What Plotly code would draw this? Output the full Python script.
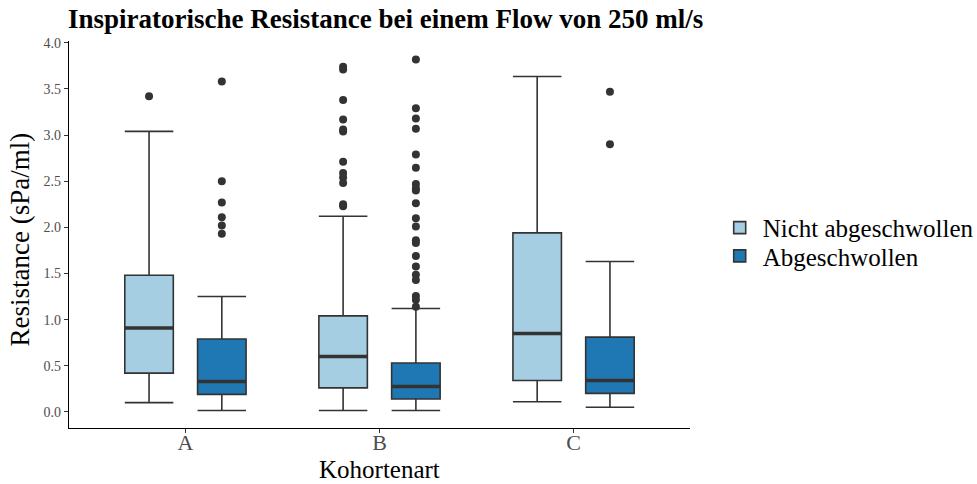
import plotly.graph_objects as go

# Kohortenart categories and the two groups per category
categories = ["A", "B", "C"]
groups = ["Nicht abgeschwollen", "Abgeschwollen"]
colors = ["#A6CEE3", "#1F78B4"]

# Box statistics (sPa/ml) per group, ordered A, B, C
lower_nicht = [0.10, 0.014, 0.11]
q1_nicht = [0.42, 0.26, 0.34]
median_nicht = [0.91, 0.60, 0.85]
q3_nicht = [1.48, 1.04, 1.94]
upper_nicht = [3.04, 2.12, 3.635]

lower_ab = [0.014, 0.014, 0.05]
q1_ab = [0.19, 0.14, 0.20]
median_ab = [0.33, 0.275, 0.34]
q3_ab = [0.79, 0.53, 0.81]
upper_ab = [1.25, 1.12, 1.63]

# Outliers per category
out_nicht_A = [3.42]
out_nicht_B = [3.74, 3.71, 3.38, 3.17, 3.06, 3.04, 2.71, 2.59, 2.54, 2.48, 2.25, 2.23]
out_nicht_C = []
out_ab_A = [3.58, 2.50, 2.27, 2.11, 2.02, 1.93]
out_ab_B = [3.82, 3.29, 3.18, 3.07, 2.79, 2.645, 2.47, 2.425, 2.40, 2.26, 2.10,
            2.01, 1.86, 1.83, 1.69, 1.575, 1.485, 1.43, 1.257, 1.214, 1.14]
out_ab_C = [3.47, 2.90]

stats = [
    (lower_nicht, q1_nicht, median_nicht, q3_nicht, upper_nicht,
     [out_nicht_A, out_nicht_B, out_nicht_C]),
    (lower_ab, q1_ab, median_ab, q3_ab, upper_ab,
     [out_ab_A, out_ab_B, out_ab_C]),
]

dodge = 0.75          # total dodge width per category
box_w = 0.25          # box width in category units
offsets = [-dodge / 4, dodge / 4]
line_col = "#333333"
serif = "Liberation Serif, Times New Roman, serif"
legend_ids = ["legend", "legend2"]

fig = go.Figure()
idx = list(range(len(categories)))

for g, (lo, q1, med, q3, up, outs) in enumerate(stats):
    xs = [i + offsets[g] for i in idx]
    fig.add_trace(go.Box(
        x=xs, lowerfence=lo, q1=q1, median=med, q3=q3, upperfence=up,
        name=groups[g], fillcolor=colors[g],
        line=dict(color=line_col, width=1.6),
        whiskerwidth=1, width=box_w, boxpoints=False,
        hoverinfo="skip", legendgroup=groups[g], legend=legend_ids[g],
    ))
    # thicker median bars
    mx, my = [], []
    for x, m in zip(xs, med):
        mx += [x - box_w / 2, x + box_w / 2, None]
        my += [m, m, None]
    fig.add_trace(go.Scatter(
        x=mx, y=my, mode="lines", line=dict(color=line_col, width=3.5),
        showlegend=False, hoverinfo="skip", legendgroup=groups[g],
    ))
    # outlier points
    ox, oy = [], []
    for x, pts in zip(xs, outs):
        ox += [x] * len(pts)
        oy += pts
    fig.add_trace(go.Scatter(
        x=ox, y=oy, mode="markers",
        marker=dict(color=line_col, size=8),
        showlegend=False, hoverinfo="skip", legendgroup=groups[g],
    ))

legend_style = dict(x=1.043, xanchor="left", yanchor="middle", itemwidth=36,
                    font=dict(size=25, color="black", family=serif),
                    bgcolor="rgba(0,0,0,0)")

fig.update_layout(
    width=977, height=484,
    margin=dict(l=69, r=287, t=41, b=56, autoexpand=False),
    plot_bgcolor="white", paper_bgcolor="white",
    font=dict(family=serif, color="black"),
    title=dict(text="<b>Inspiratorische Resistance bei einem Flow von 250 ml/s</b>",
               x=68 / 977, xanchor="left", y=0.962, yanchor="middle",
               font=dict(size=27, color="black", family=serif)),
    showlegend=True,
    legend=dict(y=0.517, **legend_style),
    legend2=dict(y=0.444, **legend_style),
    xaxis=dict(
        range=[-0.6, 2.6], tickmode="array", tickvals=idx, ticktext=categories,
        showgrid=False, zeroline=False, showline=True, linecolor="black",
        linewidth=1.3, ticks="outside", ticklen=4, tickcolor="#333333",
        tickfont=dict(size=22, color="#4d4d4d", family=serif),
        ticklabelstandoff=-10,
        automargin=False,
    ),
    yaxis=dict(
        range=[-0.175, 4.02], tickmode="array",
        tickvals=[0, 0.5, 1, 1.5, 2, 2.5, 3, 3.5, 4],
        ticktext=["0.0", "0.5", "1.0", "1.5", "2.0", "2.5", "3.0", "3.5", "4.0"],
        showgrid=False, zeroline=False, showline=True, linecolor="black",
        linewidth=1.3, ticks="outside", ticklen=4, tickcolor="#333333",
        tickfont=dict(size=14, color="#4d4d4d", family=serif),
        automargin=False,
    ),
    annotations=[
        dict(text="Kohortenart", xref="paper", yref="paper", x=0.5, y=-0.106,
             xanchor="center", yanchor="middle", showarrow=False,
             font=dict(size=25, color="black", family=serif)),
        dict(text="Resistance (sPa/ml)", xref="paper", yref="paper", x=-0.079,
             y=0.487, xanchor="center", yanchor="middle", textangle=-90,
             showarrow=False, font=dict(size=27, color="black", family=serif)),
    ],
)

fig.write_html("out.html")
